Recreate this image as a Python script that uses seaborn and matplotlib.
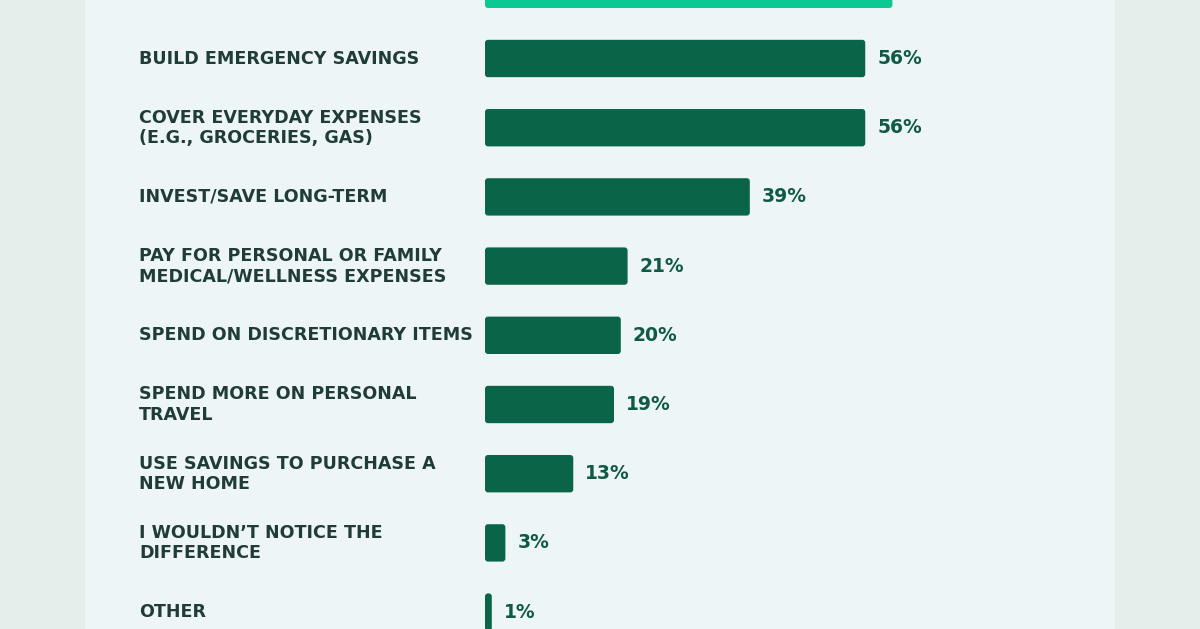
import matplotlib
matplotlib.use("Agg")
import matplotlib.pyplot as plt
import matplotlib.transforms as mtransforms
from matplotlib.patches import FancyBboxPatch, Rectangle
import pandas as pd
import seaborn as sns

# data (top category is cut off in the reference, only its bar shows)
categories = [
    "",
    "BUILD EMERGENCY SAVINGS",
    "COVER EVERYDAY EXPENSES\n(E.G., GROCERIES, GAS)",
    "INVEST/SAVE LONG-TERM",
    "PAY FOR PERSONAL OR FAMILY\nMEDICAL/WELLNESS EXPENSES",
    "SPEND ON DISCRETIONARY ITEMS",
    "SPEND MORE ON PERSONAL\nTRAVEL",
    "USE SAVINGS TO PURCHASE A\nNEW HOME",
    "I WOULDN\u2019T NOTICE THE\nDIFFERENCE",
    "OTHER",
]
values = [60, 56, 56, 39, 21, 20, 19, 13, 3, 1]
highlight = [True, False, False, False, False, False, False, False, False, False]

df = pd.DataFrame({"category": categories, "value": values, "highlight": highlight})

outer_bg = "#e6eeeb"
panel_bg = "#eef5f6"
bar_dark = "#0a6447"
bar_bright = "#0cc893"
label_col = "#1f3c36"
value_col = "#0f5a44"

sns.set_theme(style="white")
plt.rcParams["font.family"] = ["DejaVu Sans"]

fig = plt.figure(figsize=(12, 6.29), dpi=100)
fig.patch.set_facecolor(outer_bg)
panel = Rectangle((85 / 1200, 0), 1030 / 1200, 1, transform=fig.transFigure,
                  facecolor=panel_bg, edgecolor="none", zorder=-5)
fig.add_artist(panel)

ax = fig.add_axes([485 / 1200, 0, 630 / 1200, 1])
ax.set_zorder(2)
ax.set_facecolor("none")

sns.barplot(data=df, x="value", y="category", orient="h", hue="highlight",
            palette={True: bar_bright, False: bar_dark}, legend=False,
            saturation=1, width=0.54, ax=ax)

# swap the square bars for slightly rounded ones
px_x = 6.79
px_y = 69.2
for p in list(ax.patches):
    x0, y0 = p.get_x(), p.get_y()
    w, h = p.get_width(), p.get_height()
    if w <= 0:
        continue
    fc = p.get_facecolor()
    p.set_visible(False)
    rb = FancyBboxPatch((x0, y0), w, h,
                        boxstyle="round,pad=0,rounding_size=%f" % (3 / px_x),
                        mutation_aspect=(px_x / px_y),
                        facecolor=fc, edgecolor="none", zorder=2)
    ax.add_patch(rb)

ax.set_xlim(0, 630 / px_x)
ax.set_ylim((629 + 10.7) / px_y, 10.7 / px_y)
ax.axis("off")

# category labels on the left, value labels after the bars
# (the first row sits above the visible frame, so its texts are skipped)
trans = mtransforms.blended_transform_factory(fig.transFigure, ax.transData)
for i, row in df.iterrows():
    if not row["category"]:
        continue
    ax.text(139 / 1200, i, row["category"], transform=trans,
            ha="left", va="center", fontsize=12.6, fontweight="bold",
            color=label_col, linespacing=1.15)
    ax.text(row["value"] + 12 / px_x, i, f"{row['value']}%",
            ha="left", va="center", fontsize=13.5, fontweight="bold",
            color=value_col)

fig.savefig("out.png", dpi=100, facecolor=outer_bg)
